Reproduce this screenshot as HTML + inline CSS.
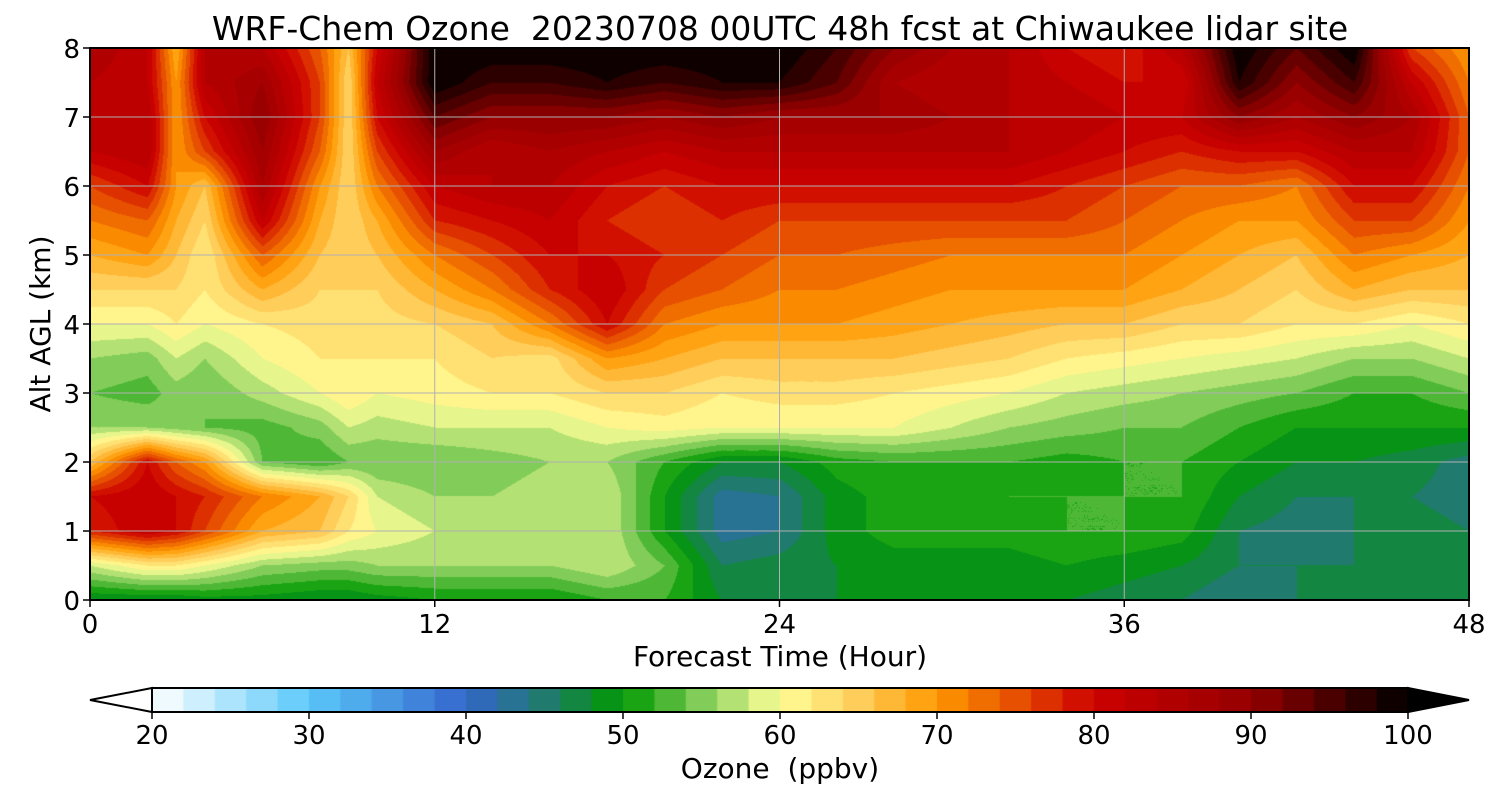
<!DOCTYPE html>
<html><head><meta charset="utf-8">
<style>
body{margin:0;width:1500px;height:800px;background:#fff;overflow:hidden;font-family:"DejaVu Sans","Liberation Sans",sans-serif;}
#plot{position:absolute;left:90px;top:48px;}
#bar{position:absolute;left:152px;top:688px;}
svg{position:absolute;left:0;top:0;font-family:"DejaVu Sans","Liberation Sans",sans-serif;}
</style></head><body>
<canvas id="plot" width="1379" height="552"></canvas>
<canvas id="bar" width="1256" height="24"></canvas>
<svg id="ov" width="1500" height="800"></svg>
<script>
const hours=[0,2,3,4,6,8,9,10,12,14,16,18,20,22,24,26,28,30,32,34,36,38,40,42,44,46,48];
const altitudes=[0,0.5,1,1.5,2,2.5,3,3.5,4,4.5,5,5.5,6,6.5,7,7.5,8];
const ozone=[
[48,58,78,80,66,56,54,56,60,64,68,72,76,82,84,84,86],
[48,62,82,82,80,56,53,55,60,64,70,74,80,84,84,82,82],
[48,62,80,80,74,55,55,58,62,64,66,68,70,70,70,70,68],
[49,60,76,78,70,54,54,56,60,62,62,64,66,76,80,84,84],
[49,56,68,72,54,53,57,60,62,68,74,82,86,88,90,88,84],
[48,55,66,68,52,55,60,62,63,64,66,68,70,74,76,76,74],
[48,55,62,64,54,58,62,62,63,64,64,64,64,64,64,64,66],
[49,56,60,58,54,57,60,62,63,64,66,68,72,76,80,82,80],
[50,56,58,56,54,58,61,62,64,68,72,78,82,88,94,100,100],
[50,56,56,56,55,58,62,64,66,72,76,80,84,84,90,96,100],
[50,56,57,57,56,58,62,63,72,78,80,82,84,86,90,96,100],
[52,58,58,58,56,60,64,70,80,82,80,78,80,84,90,98,100],
[52,54,50,50,52,61,64,68,72,76,78,76,78,82,88,96,100],
[48,46,43,43,48,60,62,66,70,74,76,78,80,84,90,98,100],
[48,47,44,44,48,60,63,66,70,72,74,76,80,84,88,98,100],
[48,48,49,49,51,60,63,66,70,72,74,76,80,84,88,94,96],
[48,49,51,51,52,60,62,66,69,71,73,76,80,84,88,86,90],
[48,49,51,51,52,58,61,65,68,70,72,76,80,84,86,84,86],
[48,49,51,52,52,56,60,64,67,70,72,76,80,84,84,84,84],
[48,50,52,52,51,55,58,62,66,70,72,76,78,82,84,82,80],
[47,49,52,52,52,54,57,61,66,70,72,74,76,80,82,80,78],
[46,48,51,52,52,54,56,60,64,68,70,72,74,78,82,80,84],
[44,46,46,48,50,52,55,59,64,66,68,70,74,80,90,98,100],
[46,46,45,46,48,50,54,58,62,64,66,70,72,80,86,90,94],
[48,46,46,46,48,50,52,56,62,68,72,76,80,84,90,96,100],
[48,47,47,46,47,50,52,56,60,66,70,76,80,84,86,82,76],
[48,47,46,45,45,50,54,58,62,66,68,70,72,74,74,72,70]];
const xTicks=[0,12,24,36,48];
const yTicks=[0,1,2,3,4,5,6,7,8];
const cbTicks=[20,30,40,50,60,70,80,90,100];
const stops=[[20,[255,255,255]],[30,[90,200,250]],[40,[51,102,204]],[45,[32,122,110]],[50,[0,153,0]],[55,[130,205,90]],[60,[255,255,153]],[65,[255,205,90]],[70,[255,153,0]],[75,[230,80,0]],[80,[204,0,0]],[90,[150,0,0]],[100,[0,0,0]]];
const X0=90,X1=1469,Y0=600,Y1=48;
const xs=h=>X0+(h-0)/48*(X1-X0), ys=a=>Y0-(a/8)*(Y0-Y1);
function col(v){v=Math.max(20,Math.min(100,v));v=Math.floor(v/2)*2+1;
 for(let i=0;i<stops.length-1;i++){const[a,ca]=stops[i],[b,cb]=stops[i+1];
  if(v<=b){const t=(v-a)/(b-a);return ca.map((c,k)=>Math.round(c+(cb[k]-c)*t));}}
 return stops[stops.length-1][1];}
function interp(h,a){
 let i=0;while(i<hours.length-2&&h>hours[i+1])i++;
 let j=0;while(j<altitudes.length-2&&a>altitudes[j+1])j++;
 const tx=(h-hours[i])/(hours[i+1]-hours[i]),ty=(a-altitudes[j])/(altitudes[j+1]-altitudes[j]);
 const v00=ozone[i][j],v10=ozone[i+1][j],v01=ozone[i][j+1],v11=ozone[i+1][j+1];
 return v00*(1-tx)*(1-ty)+v10*tx*(1-ty)+v01*(1-tx)*ty+v11*tx*ty;}
const cv=document.getElementById('plot'),ctx=cv.getContext('2d');
const img=ctx.createImageData(cv.width,cv.height);
for(let py=0;py<cv.height;py++){const a=(Y0-(Y1+py+0.5))/(Y0-Y1)*8;
 for(let px=0;px<cv.width;px++){const h=(px+0.5)/(X1-X0)*48;const c=col(interp(h,a));const o=(py*cv.width+px)*4;
  img.data[o]=c[0];img.data[o+1]=c[1];img.data[o+2]=c[2];img.data[o+3]=255;}}
ctx.putImageData(img,0,0);
const bc=document.getElementById('bar'),bctx=bc.getContext('2d');
for(let v=20;v<100;v+=2){const c=col(v);bctx.fillStyle=`rgb(${c})`;bctx.fillRect((v-20)/80*1256,0,1256/40+1,24);}
const NS='http://www.w3.org/2000/svg',ov=document.getElementById('ov');
function el(t,at,txt){const e=document.createElementNS(NS,t);for(const k in at)e.setAttribute(k,at[k]);if(txt!=null)e.textContent=txt;ov.appendChild(e);return e;}
xTicks.forEach(t=>{const x=xs(t);
 const g=el('line',{x1:x,x2:x,y1:Y1,y2:Y0,stroke:'#b0b0b0','stroke-width':1});
 
 el('line',{x1:x,x2:x,y1:Y0,y2:Y0+7,stroke:'#000','stroke-width':1.5});
 const l=el('text',{x:x,y:633,'text-anchor':'middle','font-size':26},t);
 });
yTicks.forEach(t=>{const y=ys(t);
 const g=el('line',{x1:X0,x2:X1,y1:y,y2:y,stroke:'#b0b0b0','stroke-width':1});
 
 el('line',{x1:X0-7,x2:X0,y1:y,y2:y,stroke:'#000','stroke-width':1.5});
 const l=el('text',{x:X0-10,y:y+10,'text-anchor':'end','font-size':26},t);
 });
const fr=el('rect',{x:X0,y:Y1,width:X1-X0,height:Y0-Y1,fill:'none',stroke:'#000','stroke-width':2});

const t1=el('text',{x:780,y:40,'text-anchor':'middle','font-size':33},'WRF-Chem Ozone  20230708 00UTC 48h fcst at Chiwaukee lidar site');

t1.style.whiteSpace='pre';
const xl=el('text',{x:780,y:666,'text-anchor':'middle','font-size':28},'Forecast Time (Hour)');

const yl=el('text',{x:50,y:324,'text-anchor':'middle','font-size':28,transform:'rotate(-90 50 324)'},'Alt AGL (km)');

const lt=el('polygon',{points:'152,688 90,700 152,712',fill:'#fff',stroke:'#000','stroke-width':2});

const rt=el('polygon',{points:'1408,688 1469,700 1408,712',fill:'#000',stroke:'#000','stroke-width':2});

const cf=el('rect',{x:152,y:688,width:1256,height:24,fill:'none',stroke:'#000','stroke-width':2});

cbTicks.forEach(v=>{const x=152+(v-20)/80*1256;
 el('line',{x1:x,x2:x,y1:712,y2:719,stroke:'#000','stroke-width':1.5});
 const l=el('text',{x:x,y:744,'text-anchor':'middle','font-size':26},v);
 });
const cl=el('text',{x:780,y:778,'text-anchor':'middle','font-size':28},'Ozone  (ppbv)');
cl.style.whiteSpace='pre';
</script>
</body></html>
